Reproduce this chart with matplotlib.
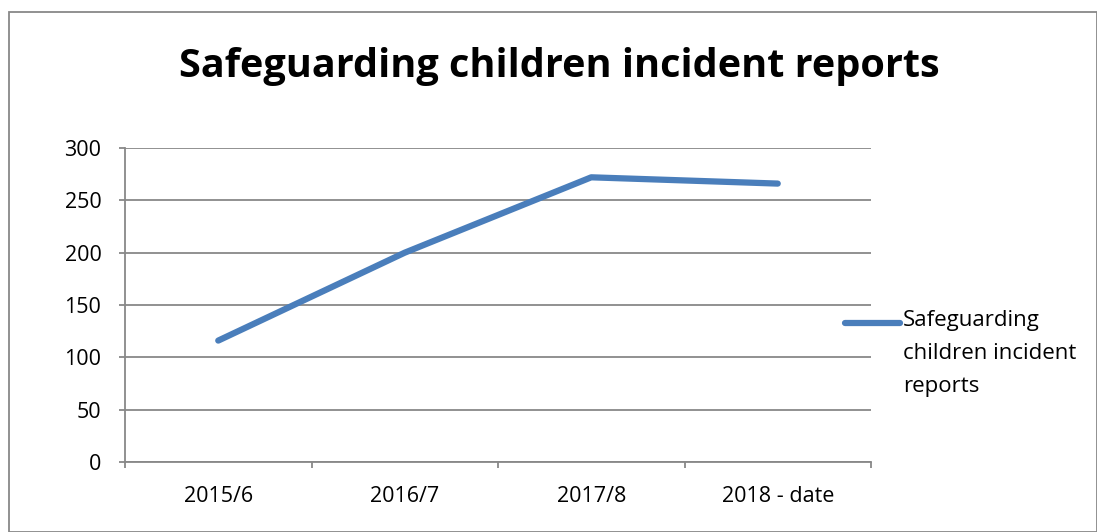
import matplotlib.pyplot as plt
from matplotlib.patches import Rectangle
import numpy as np

plt.rcParams['font.family'] = ['Open Sans', 'DejaVu Sans']

#data
periods = ['2015/6', '2016/7', '2017/8', '2018 - date']
reports = [116, 200, 272, 266]
series_name = 'Safeguarding\nchildren incident\nreports'

grey = '#888888'
blue = '#4a7ebb'

fig = plt.figure(figsize=(10.97, 5.32), dpi=100)
ax = fig.add_axes([125/1097, 1-462/532, (871-125)/1097, (462-148)/532])

x = np.arange(len(periods))
ax.plot(x, reports, color=blue, linewidth=4.5, solid_capstyle='round', solid_joinstyle='round')

ax.set_xlim(-0.5, len(periods) - 0.5)
ax.set_ylim(0, 300)
ax.set_yticks(range(0, 301, 50))
ax.set_xticks(x)
ax.set_xticklabels(periods)
ax.set_xticks(np.arange(-0.5, len(periods), 1), minor=True)
ax.tick_params(axis='x', which='major', length=0, labelsize=15.5, pad=17)
ax.tick_params(axis='x', which='minor', length=4, color=grey, width=1.3)
ax.tick_params(axis='y', length=4, color=grey, width=1.3, labelsize=15.5, pad=13)

ax.grid(axis='y', color=grey, linewidth=1.3)
ax.set_axisbelow(True)
for s in ['top', 'right']:
    ax.spines[s].set_visible(False)
for s in ['left', 'bottom']:
    ax.spines[s].set_color(grey)
    ax.spines[s].set_linewidth(1.3)

#legend
fig.lines.append(plt.Line2D([845/1097, 900/1097], [1-323/532, 1-323/532], color=blue, linewidth=4.5,
                            solid_capstyle='round', transform=fig.transFigure))
fig.text(903/1097, 1-310/532, series_name, fontsize=16, va='top', ha='left', linespacing=1.75)

fig.text(559/1097, 1-66/532, 'Safeguarding children incident reports', fontsize=28.5, fontweight='bold',
         ha='center', va='center')

#outer frame
fig.patches.append(Rectangle((9/1097, 0), 1 - 9/1097, 1 - 12/532, transform=fig.transFigure,
                             fill=False, edgecolor=grey, linewidth=1.3))

fig.savefig('out.png', dpi=100)
